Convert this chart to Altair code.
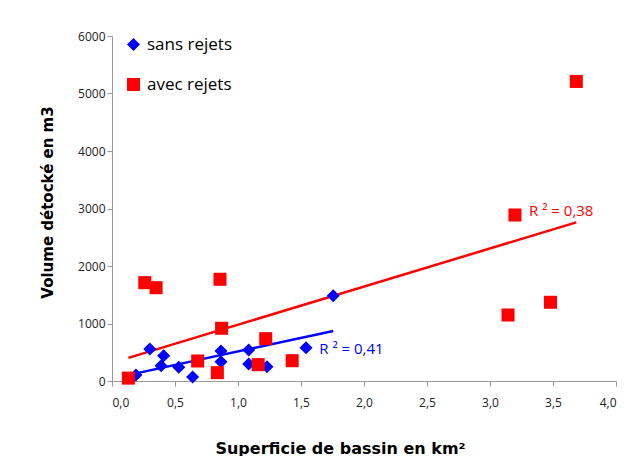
import altair as alt
import pandas as pd

# data
blue_x = [0.19, 0.30, 0.39, 0.41, 0.53, 0.64, 0.865, 0.865, 1.085, 1.085, 1.23, 1.54, 1.756]
blue_y = [105, 557, 266, 440, 238, 70, 522, 336, 539, 296, 249, 580, 1484]
red_x = [0.13, 0.26, 0.35, 0.68, 0.836, 0.857, 0.87, 1.16, 1.22, 1.43, 3.143, 3.198, 3.48, 3.685]
red_y = [50, 1710, 1623, 348, 145, 1769, 917, 284, 736, 353, 1148, 2887, 1369, 5210]
series = ["sans rejets", "avec rejets"]
colors = ["#0000FF", "#FF0000"]
shapes = ["diamond", "square"]
r2_text = ["R ² = 0,41", "R ² = 0,38"]
r2_x = [1.645, 3.31]
r2_y = [560, 2950]

df = pd.DataFrame({
    "serie": [series[0]] * len(blue_x) + [series[1]] * len(red_x),
    "x": blue_x + red_x,
    "y": blue_y + red_y,
})
ann = pd.DataFrame({"serie": series, "x": r2_x, "y": r2_y, "t": r2_text})

xs = alt.Scale(domain=[0, 4], nice=False, zero=False)
ys = alt.Scale(domain=[0, 6000], nice=False)

x_enc = alt.X("x:Q", scale=xs, axis=alt.Axis(
    title="Superficie de bassin en km²", values=[0, 0.5, 1, 1.5, 2, 2.5, 3, 3.5, 4],
    labelExpr="replace(format(datum.value, '.1f'), '.', ',')",
    labelPadding=11, titleX=228, titleY=67, titleBaseline="middle",
    titleAlign="center", titleFontSize=16))
y_enc = alt.Y("y:Q", scale=ys, axis=alt.Axis(
    title="Volume détocké en m3", values=[0, 1000, 2000, 3000, 4000, 5000, 6000],
    format="d", titleX=-65, titleY=166, titleBaseline="middle", titleAngle=-90,
    titleAlign="center", titleFontSize=15))

base = alt.Chart(df)

lines = []
for s, c in zip(series, colors):
    lines.append(
        base.transform_filter(alt.datum.serie == s)
        .transform_regression("x", "y")
        .mark_line(color=c, strokeWidth=2.5)
        .encode(x=alt.X("x:Q", scale=xs), y=alt.Y("y:Q", scale=ys))
    )

leg = alt.Legend(title=None, orient="none", legendX=13, legendY=0,
                 symbolSize=170, rowPadding=22, labelFontSize=17,
                 labelOffset=5, labelColor="#000", padding=0,
                 labelFont="Open Sans", symbolStrokeWidth=0)

points = base.mark_point(filled=True, size=170, opacity=1).encode(
    x=x_enc, y=y_enc,
    color=alt.Color("serie:N", scale=alt.Scale(domain=series, range=colors), legend=leg),
    shape=alt.Shape("serie:N", scale=alt.Scale(domain=series, range=shapes), legend=leg),
)

labels = alt.Chart(ann).mark_text(align="left", baseline="middle", fontSize=15,
                                  font="Open Sans").encode(
    x=alt.X("x:Q", scale=xs), y=alt.Y("y:Q", scale=ys),
    text="t:N",
    color=alt.Color("serie:N", scale=alt.Scale(domain=series, range=colors), legend=None),
)

chart = alt.layer(*lines, points, labels).properties(
    width=504, height=345,
    autosize=alt.AutoSizeParams(type="none"),
    padding={"left": 104, "top": 28, "right": 1, "bottom": 75},
).configure_view(stroke=None).configure_axis(
    grid=False, domainColor="#999", tickColor="#999", tickSize=5,
    labelFont="Open Sans", labelFontSize=12, labelColor="#222",
    titleFont="DejaVu Sans", titleFontWeight="bold", titleColor="#000",
)

chart.save("out.html", embed_options={"renderer": "svg", "actions": False})
